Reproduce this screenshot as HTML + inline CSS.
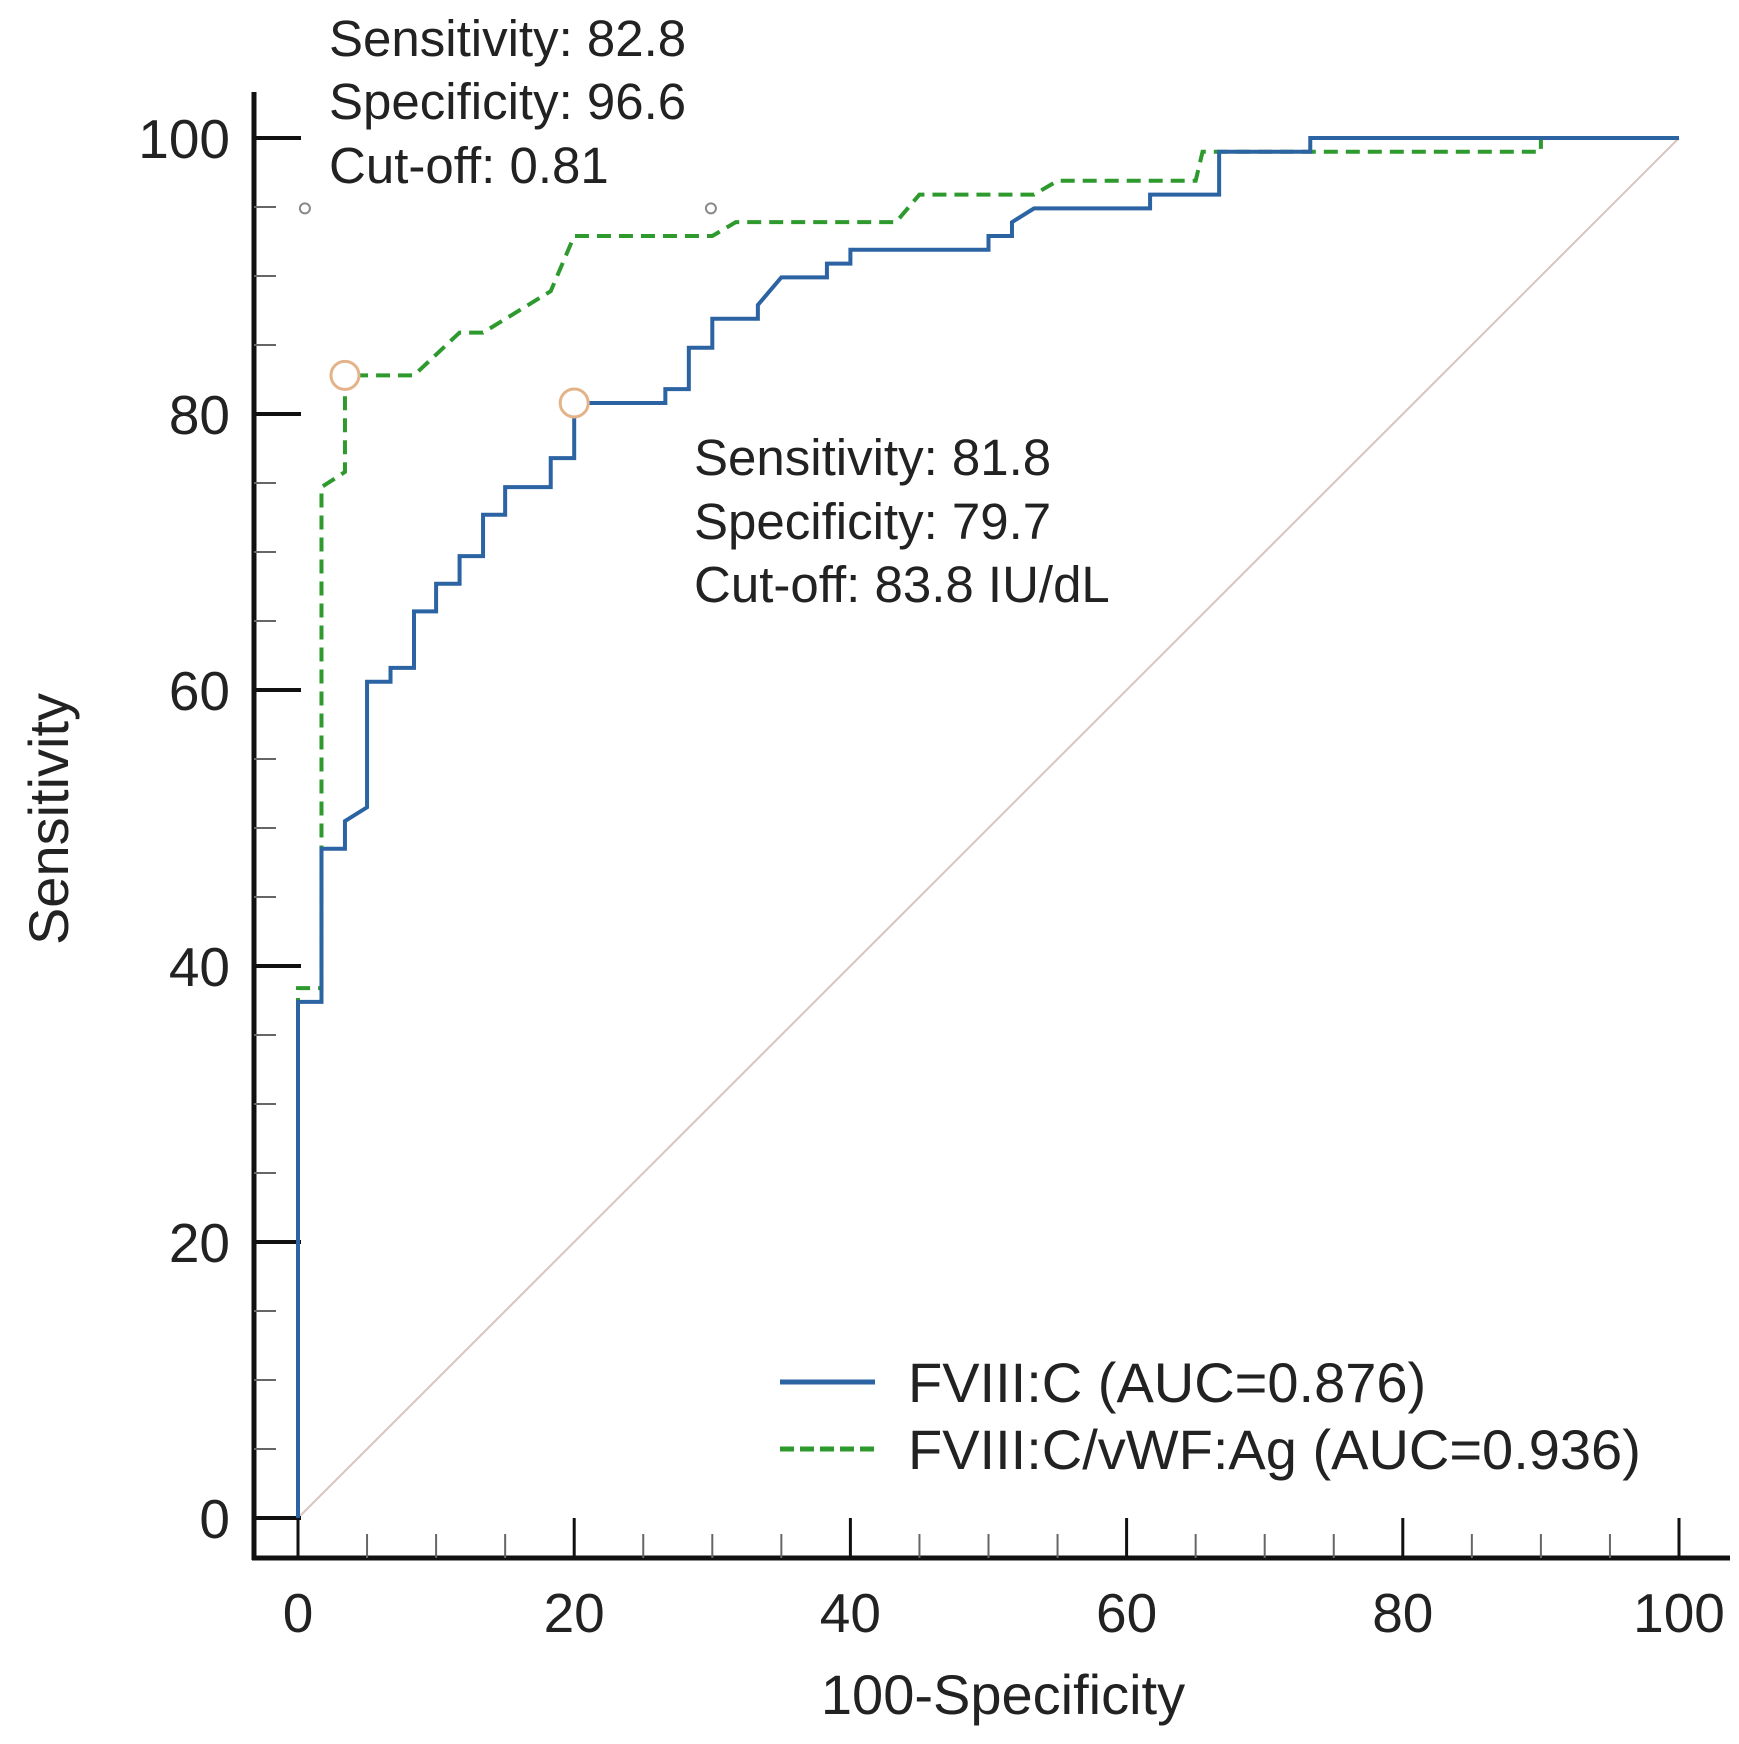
<!DOCTYPE html>
<html><head><meta charset="utf-8"><style>
body{margin:0;background:#fff}
svg text{font-family:"Liberation Sans",sans-serif;fill:#222}
</style></head><body>
<svg id="chart" width="1739" height="1739" viewBox="0 0 1739 1739" xmlns="http://www.w3.org/2000/svg"></svg>
<script>
const xTicks=[0,20,40,60,80,100];
const yTicks=[0,20,40,60,80,100];
const blueX=[0,0,1.7,1.7,3.4,3.4,5,5,6.7,6.7,8.4,8.4,10,10,11.7,11.7,13.4,13.4,15,15,18.3,18.3,20,20,26.6,26.6,28.3,28.3,30,30,33.3,33.3,35,38.3,38.3,40,40,50,50,51.7,51.7,53.3,61.7,61.7,66.7,66.7,73.3,73.3,100];
const blueY=[0,37.4,37.4,48.5,48.5,50.5,51.5,60.6,60.6,61.6,61.6,65.7,65.7,67.7,67.7,69.7,69.7,72.7,72.7,74.7,74.7,76.8,76.8,80.8,80.8,81.8,81.8,84.8,84.8,86.9,86.9,87.9,89.9,89.9,90.9,90.9,91.9,91.9,92.9,92.9,93.9,94.9,94.9,95.9,95.9,99,99,100,100];
const greenX=[0,0,1.7,1.7,3.4,3.4,8.4,11.7,13.4,18.3,20,30,31.7,43.3,45,53.3,55,65,65.5,90,90,100];
const greenY=[0,38.4,38.4,74.7,75.8,82.8,82.8,85.9,85.9,88.9,92.9,92.9,93.9,93.9,95.9,95.9,96.9,96.9,99,99,100,100];
const cutX=[3.4,20];
const cutY=[82.8,80.8];
const greyX=[0.5,29.9];
const greyY=[94.9,94.9];
const X0=298,X1=1679,Y0=1518,Y1=138;
const sx=v=>X0+(X1-X0)*v/100, sy=v=>Y0-(Y0-Y1)*v/100;
const svg=document.getElementById('chart');
const NS='http://www.w3.org/2000/svg';
function mk(t,a){const e=document.createElementNS(NS,t);for(const k in a)e.setAttribute(k,a[k]);svg.appendChild(e);return e;}
let d=mk('line',{x1:sx(0),y1:sy(0),x2:sx(100),y2:sy(100),stroke:'#d8c4c0','stroke-width':2});


let ya=mk('line',{x1:254,y1:92,x2:254,y2:1560,stroke:'#111','stroke-width':5});


let xa=mk('line',{x1:252,y1:1558,x2:1730,y2:1558,stroke:'#111','stroke-width':5});


for(let v=0;v<=100;v+=5){
  const maj=v%20===0;
  let t=mk('line',{x1:254,y1:sy(v),x2:254+(maj?47:22),y2:sy(v),stroke:maj?'#111':'#666','stroke-width':maj?4:2});
  
  
  let u=mk('line',{x1:sx(v),y1:1558,x2:sx(v),y2:1558-(maj?40:24),stroke:maj?'#111':'#666','stroke-width':maj?3:2});
  
  
}
yTicks.forEach(v=>{let t=mk('text',{x:230,y:sy(v)+20,'text-anchor':'end','font-size':55});t.textContent=v;
  
  });
xTicks.forEach(v=>{let t=mk('text',{x:sx(v),y:1632,'text-anchor':'middle','font-size':55});t.textContent=v;
  
  });
let xt=mk('text',{x:1003,y:1714,'text-anchor':'middle','font-size':56});xt.textContent='100-Specificity';


let yt=mk('text',{x:0,y:0,'text-anchor':'middle','font-size':56,transform:'translate(68,819) rotate(-90)'});yt.textContent='Sensitivity';


function pts(xs,ys){return xs.map((x,i)=>sx(x)+','+sy(ys[i])).join(' ');}
let g=mk('polyline',{points:pts(greenX,greenY),fill:'none',stroke:'#2e9a2e','stroke-width':4,'stroke-dasharray':'14,8'});


let b=mk('polyline',{points:pts(blueX,blueY),fill:'none',stroke:'#2b63a3','stroke-width':4});


cutX.forEach((x,i)=>{let c=mk('circle',{cx:sx(x),cy:sy(cutY[i]),r:14,fill:'#fff',stroke:'#e3b48a','stroke-width':3});
  
  });
greyX.forEach((x,i)=>{let c=mk('circle',{cx:sx(x),cy:sy(greyY[i]),r:5,fill:'none',stroke:'#888','stroke-width':2});
  
  });
function lines(x,ys,arr,name){arr.forEach((s,i)=>{let t=mk('text',{x:x,y:ys[i],'font-size':51});t.textContent=s;
  
  });}
lines(329,[56,119,183],['Sensitivity: 82.8','Specificity: 96.6','Cut-off: 0.81'],'ratio-cutoff-annotation');
lines(694,[475,539,602],['Sensitivity: 81.8','Specificity: 79.7','Cut-off: 83.8 IU/dL'],'fviii-cutoff-annotation');
let l1=mk('line',{x1:780,y1:1382,x2:875,y2:1382,stroke:'#2b63a3','stroke-width':5});


let l2=mk('line',{x1:780,y1:1449,x2:875,y2:1449,stroke:'#2e9a2e','stroke-width':5,'stroke-dasharray':'14,6'});


let t1=mk('text',{x:908,y:1402,'font-size':56});t1.textContent='FVIII:C (AUC=0.876)';


let t2=mk('text',{x:908,y:1469,'font-size':56});t2.textContent='FVIII:C/vWF:Ag (AUC=0.936)';


</script>
</body></html>
